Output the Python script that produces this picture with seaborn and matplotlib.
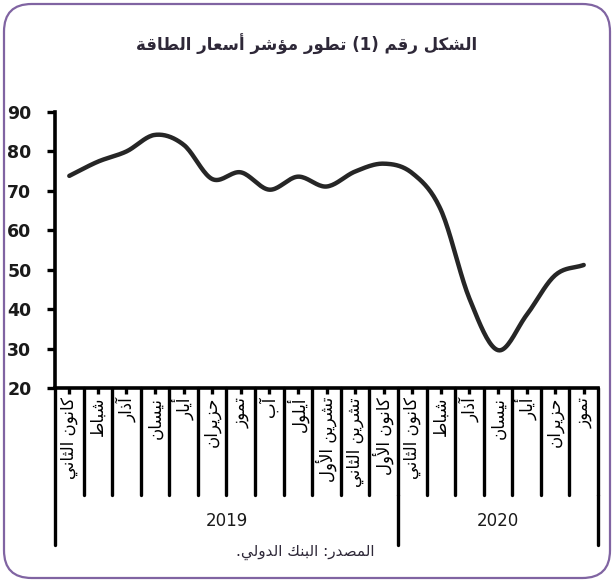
import numpy as np
import pandas as pd
import matplotlib
matplotlib.use("Agg")
import matplotlib.pyplot as plt
import seaborn as sns
from matplotlib.patches import FancyBboxPatch
from matplotlib.lines import Line2D

# ---------------- data ----------------
months_2019 = ["كانون الثاني", "شباط", "آذار", "نيسان", "أيار", "حزيران", "تموز",
               "آب", "أيلول", "تشرين الأول", "تشرين الثاني", "كانون الأول"]
months_2020 = ["كانون الثاني", "شباط", "آذار", "نيسان", "أيار", "حزيران", "تموز"]
years = ["2019", "2020"]
values = [73.8, 77.4, 80.0, 84.2, 81.7, 73.0, 74.7, 70.3, 73.6, 71.1, 74.9, 76.9,
          74.5, 65.2, 42.7, 29.6, 38.5, 48.6, 51.2]
y_ticks = [20, 30, 40, 50, 60, 70, 80, 90]
title_text = "الشكل رقم (1) تطور مؤشر أسعار الطاقة"
source_text = "المصدر: البنك الدولي."

# ---------------- Arabic shaping (visual order) ----------------
FORMS = {  # isolated, final, initial, medial
    'ء': (0xFE80, None, None, None),
    'آ': (0xFE81, 0xFE82, None, None), 'أ': (0xFE83, 0xFE84, None, None),
    'ؤ': (0xFE85, 0xFE86, None, None), 'إ': (0xFE87, 0xFE88, None, None),
    'ئ': (0xFE89, 0xFE8A, 0xFE8B, 0xFE8C), 'ا': (0xFE8D, 0xFE8E, None, None),
    'ب': (0xFE8F, 0xFE90, 0xFE91, 0xFE92), 'ة': (0xFE93, 0xFE94, None, None),
    'ت': (0xFE95, 0xFE96, 0xFE97, 0xFE98), 'ث': (0xFE99, 0xFE9A, 0xFE9B, 0xFE9C),
    'ج': (0xFE9D, 0xFE9E, 0xFE9F, 0xFEA0), 'ح': (0xFEA1, 0xFEA2, 0xFEA3, 0xFEA4),
    'خ': (0xFEA5, 0xFEA6, 0xFEA7, 0xFEA8), 'د': (0xFEA9, 0xFEAA, None, None),
    'ذ': (0xFEAB, 0xFEAC, None, None), 'ر': (0xFEAD, 0xFEAE, None, None),
    'ز': (0xFEAF, 0xFEB0, None, None), 'س': (0xFEB1, 0xFEB2, 0xFEB3, 0xFEB4),
    'ش': (0xFEB5, 0xFEB6, 0xFEB7, 0xFEB8), 'ص': (0xFEB9, 0xFEBA, 0xFEBB, 0xFEBC),
    'ض': (0xFEBD, 0xFEBE, 0xFEBF, 0xFEC0), 'ط': (0xFEC1, 0xFEC2, 0xFEC3, 0xFEC4),
    'ظ': (0xFEC5, 0xFEC6, 0xFEC7, 0xFEC8), 'ع': (0xFEC9, 0xFECA, 0xFECB, 0xFECC),
    'غ': (0xFECD, 0xFECE, 0xFECF, 0xFED0), 'ف': (0xFED1, 0xFED2, 0xFED3, 0xFED4),
    'ق': (0xFED5, 0xFED6, 0xFED7, 0xFED8), 'ك': (0xFED9, 0xFEDA, 0xFEDB, 0xFEDC),
    'ل': (0xFEDD, 0xFEDE, 0xFEDF, 0xFEE0), 'م': (0xFEE1, 0xFEE2, 0xFEE3, 0xFEE4),
    'ن': (0xFEE5, 0xFEE6, 0xFEE7, 0xFEE8), 'ه': (0xFEE9, 0xFEEA, 0xFEEB, 0xFEEC),
    'و': (0xFEED, 0xFEEE, None, None), 'ى': (0xFEEF, 0xFEF0, None, None),
    'ي': (0xFEF1, 0xFEF2, 0xFEF3, 0xFEF4),
}
LAM_ALEF = {'آ': (0xFEF5, 0xFEF6), 'أ': (0xFEF7, 0xFEF8),
            'إ': (0xFEF9, 0xFEFA), 'ا': (0xFEFB, 0xFEFC)}


def joins_left(ch):
    f = FORMS.get(ch)
    return f is not None and f[2] is not None


def shape(text):
    chars = list(text)
    out = []
    i = 0
    n = len(chars)
    while i < n:
        c = chars[i]
        if c not in FORMS:
            out.append(c)
            i += 1
            continue
        prev_joins = i > 0 and joins_left(chars[i - 1])
        if c == 'ل' and i + 1 < n and chars[i + 1] in LAM_ALEF:
            iso, fin = LAM_ALEF[chars[i + 1]]
            out.append(chr(fin if prev_joins else iso))
            i += 2
            continue
        nxt_joins = i + 1 < n and chars[i + 1] in FORMS and joins_left(c)
        iso, fin, ini, med = FORMS[c]
        if prev_joins and nxt_joins and med:
            g = med
        elif prev_joins and fin:
            g = fin
        elif nxt_joins and ini:
            g = ini
        else:
            g = iso
        out.append(chr(g))
        i += 1
    s = "".join(out)[::-1]
    mirror = {'(': ')', ')': '('}
    return "".join(mirror.get(ch, ch) for ch in s)


# ---------------- figure ----------------
sns.set_theme(style="white")
plt.rcParams['font.family'] = ['DejaVu Sans']

W, H = 614, 581
fig = plt.figure(figsize=(W / 100, H / 100), dpi=100)

border = FancyBboxPatch((4 / W, 3 / H), (W - 8) / W, (H - 7) / H,
                        boxstyle="round,pad=0,rounding_size=0.045",
                        transform=fig.transFigure, facecolor="none",
                        edgecolor="#8064A2", linewidth=1.6, zorder=-5,
                        mutation_aspect=W / H)
fig.patches.append(border)

ax_l, ax_r, ax_t, ax_b = 55, 598, 112, 388
ax = fig.add_axes([ax_l / W, 1 - ax_b / H, (ax_r - ax_l) / W, (ax_b - ax_t) / H])
ax.set_facecolor("none")

labels = months_2019 + months_2020
n = len(labels)
x = np.arange(n)

# smooth (Catmull-Rom) rendering of the data line
pts = np.column_stack([x, values]).astype(float)
ext = np.vstack([2 * pts[0] - pts[1], pts, 2 * pts[-1] - pts[-2]])
sx, sy = [], []
for k in range(1, len(ext) - 2):
    p0, p1, p2, p3 = ext[k - 1], ext[k], ext[k + 1], ext[k + 2]
    for t in np.linspace(0, 1, 20, endpoint=False):
        t2, t3 = t * t, t * t * t
        p = 0.5 * ((2 * p1) + (-p0 + p2) * t + (2 * p0 - 5 * p1 + 4 * p2 - p3) * t2
                   + (-p0 + 3 * p1 - 3 * p2 + p3) * t3)
        sx.append(p[0]); sy.append(p[1])
sx.append(pts[-1, 0]); sy.append(pts[-1, 1])
df = pd.DataFrame({"x": sx, "y": sy})
sns.lineplot(data=df, x="x", y="y", ax=ax, color="#262626", linewidth=3.2,
             sort=False, estimator=None, solid_capstyle="round")

ax.set_xlim(-0.5, n - 0.5)
ax.set_ylim(20, 90)
ax.set_yticks(y_ticks)
ax.set_yticklabels([str(v) for v in y_ticks], fontsize=12.5, fontweight="bold",
                   color="#1a1a1a")
ax.tick_params(axis="y", left=True, direction="out", length=6, width=2.4, pad=11,
               color="black")
ax.set_xticks(x)
ax.set_xticklabels([])
ax.tick_params(axis="x", bottom=True, direction="out", length=4, width=2.4,
               color="black")
ax.set_xlabel("")
ax.set_ylabel("")
for s in ["top", "right"]:
    ax.spines[s].set_visible(False)
for s in ["left", "bottom"]:
    ax.spines[s].set_linewidth(2.6)
    ax.spines[s].set_color("black")

# category axis boundaries and labels (figure pixel helpers)
def fx(px):
    return px / W

def fy(py):
    return 1 - py / H

step = (ax_r - ax_l) / n
for b in range(1, n + 1):
    xb = ax_l + b * step
    fig.add_artist(Line2D([fx(xb), fx(xb)], [fy(ax_b), fy(495)], color="black",
                          linewidth=2.4, transform=fig.transFigure))
for i, lab in enumerate(labels):
    xc = ax_l + (i + 0.5) * step
    fig.text(fx(xc), fy(397), shape(lab), rotation=90, ha="center", va="top",
             fontsize=12, color="black")

# year level
n19 = len(months_2019)
for xb in [ax_l, ax_l + n19 * step, ax_r]:
    y0 = ax_b if xb == ax_l else 495
    fig.add_artist(Line2D([fx(xb), fx(xb)], [fy(y0), fy(545)], color="black",
                          linewidth=2.4, transform=fig.transFigure))
fig.text(fx((ax_l + ax_l + n19 * step) / 2), fy(521), years[0], ha="center",
         va="center", fontsize=12, color="#1a1a1a")
fig.text(fx((ax_l + n19 * step + ax_r) / 2), fy(521), years[1], ha="center",
         va="center", fontsize=12, color="#1a1a1a")

fig.text(0.5, fy(44), shape(title_text), ha="center", va="center", fontsize=12,
         fontweight="bold", color="#2e2838")
fig.text(fx(305), fy(552), shape(source_text), ha="center", va="center",
         fontsize=11, color="#2e2838")

fig.savefig("out.png", dpi=100)
